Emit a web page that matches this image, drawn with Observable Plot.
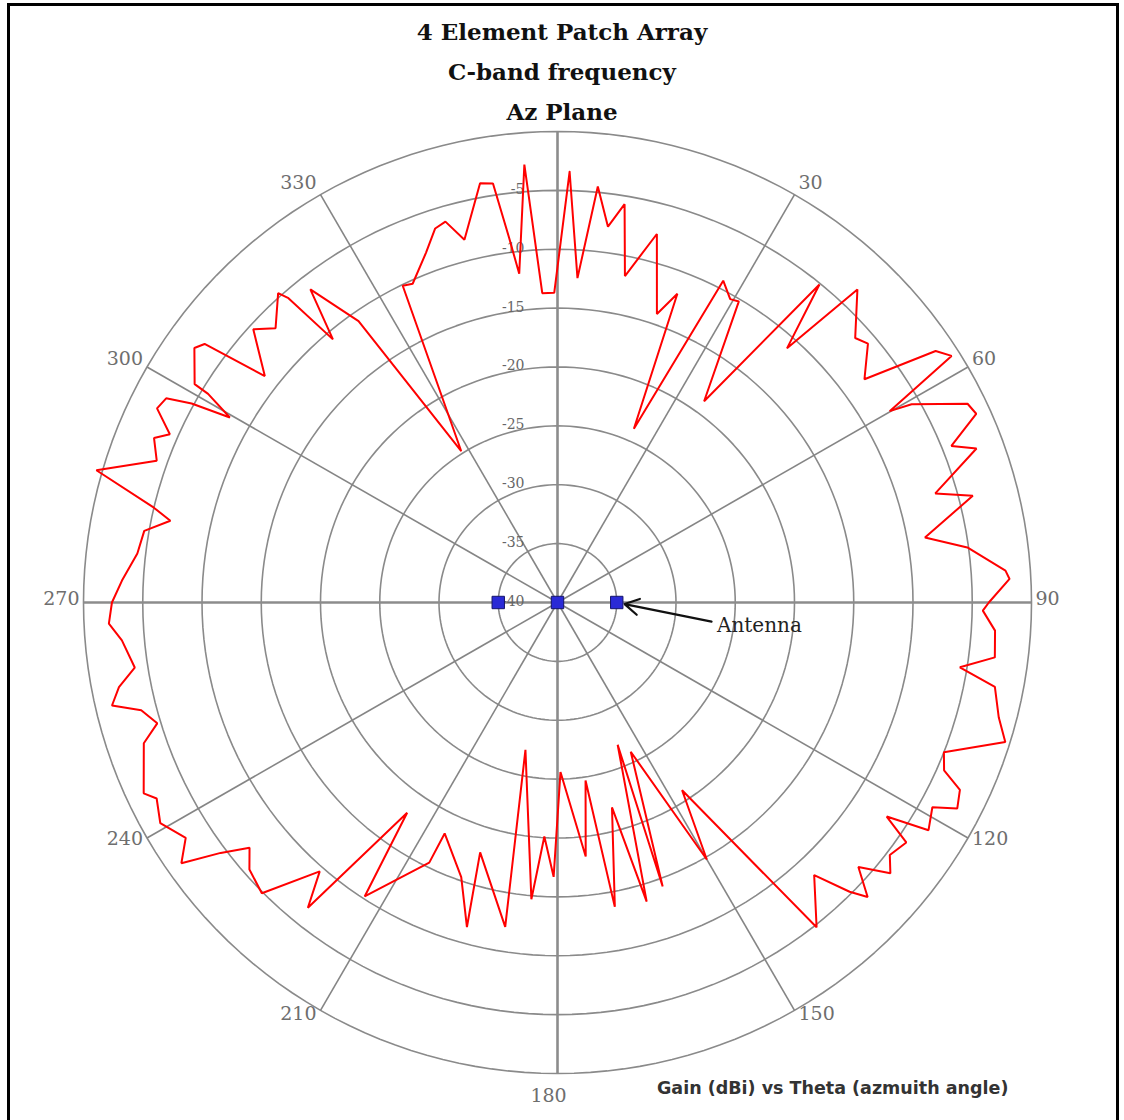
<!DOCTYPE html>
<html>
<head>
<meta charset="utf-8">
<script src="https://cdn.jsdelivr.net/npm/d3@7"></script>
<script src="https://cdn.jsdelivr.net/npm/@observablehq/plot@0.6"></script>
<style>
  body { margin: 0; background: #fff; }
  #wrap { position: relative; width: 1124px; height: 1120px; overflow: hidden; background: #fff; }
  #title { height: 124px; padding-top: 12px; box-sizing: border-box; text-align: center;
           font-family: "DejaVu Serif", serif; font-weight: bold; font-size: 23px; color: #111; position: relative; z-index: 2; }
  #title div { height: 40px; line-height: 40px; }
  #frame { position: absolute; left: 7px; top: 3px; width: 1112px; height: 1140px; border: 3px solid #000; box-sizing: border-box; z-index: 3; pointer-events: none; }
  #caption { position: absolute; left: 657px; top: 1077px; font-family: "DejaVu Sans", sans-serif; font-weight: bold;
             font-size: 17.5px; line-height: 22px; color: #333; z-index: 2; }
  #chart { display: block; }
</style>
</head>
<body>
<div id="wrap">
  <div id="frame"></div>
  <div id="title"><div>4 Element Patch Array</div><div>C-band frequency</div><div>Az Plane</div></div>
  <div id="chart"></div>
  <div id="caption">Gain (dBi) vs Theta (azmuith angle)</div>
</div>
<script>
// ---- data: azimuth angle (deg, clockwise from top) and gain (dBi), in trace order ----
const theta = [
  1.6, 3.5, 5.5, 7.6, 9.5, 11.6, 15.0, 18.9, 21.1, 23.6, 27.1, 29.5, 30.9, 35.9, 39.3, 41.9, 43.6,
  48.2, 50.0, 53.8, 56.2, 57.8, 59.9, 60.6, 64.0, 65.6, 68.2, 69.7, 73.8, 75.5, 79.9, 82.3, 85.9, 87.0,
  90.0, 91.1, 93.7, 97.2, 99.2, 101.0, 104.7, 107.4, 111.3, 113.6, 115.1, 117.4, 118.8, 121.7, 123.2,
  124.7, 127.4, 129.3, 131.5, 133.7, 134.9, 136.9, 141.6, 146.6, 150.0, 154.0, 159.8, 157.2, 163.5,
  165.2, 169.4, 171.1, 173.7, 179.0, 180.8, 183.2, 185.0, 192.2, 189.1, 197.1, 195.5, 199.2, 205.9,
  206.1, 213.1, 215.4, 219.1, 221.3, 225.3, 228.9, 231.3, 233.2, 235.1, 237.5, 240.8, 243.8, 245.1,
  251.1, 253.1, 255.4, 256.9, 259.0, 261.2, 265.0, 267.3, 270.0, 272.9, 276.7, 279.9, 282.0, 283.3,
  286.1, 289.6, 292.3, 293.6, 296.0, 297.7, 298.7, 299.6, 301.0, 301.2, 305.2, 306.4, 307.9, 312.1,
  314.4, 318.1, 318.7, 319.7, 321.9, 324.9, 327.7, 334.1, 335.7, 339.5, 342.0, 343.7, 345.7, 349.6,
  351.3, 352.5, 353.4, 355.7, 357.2, 359.4
];
const gain = [
  -3.4, -12.4, -4.5, -7.8, -5.7, -11.7, -7.6, -14.1, -11.9, -23.9, -9.3, -10.4, -10.2, -18.9, -5.1, -11.0, -3.3,
  -6.3, -5.8, -7.9, -1.6, -0.7, -7.6, -5.7, -1.5, -1.2, -4.2, -2.3, -6.8, -3.8, -8.5, -5.1, -2.1, -1.8,
  -3.6, -4.1, -3.0, -2.8, -5.6, -2.4, -1.5, -0.4, -5.0, -4.4, -2.5, -2.0, -3.9, -3.2, -6.8,
  -4.2, -4.7, -3.7, -6.1, -3.8, -5.2, -8.3, -4.8, -20.9, -14.8, -25.9, -14.3, -26.9, -13.5,
  -22.0, -13.7, -24.7, -18.3, -25.6, -16.7, -20.1, -14.7, -27.2, -12.1, -17.8, -11.4, -15.3, -18.2,
  -15.4, -10.2, -18.1, -6.6, -9.6, -4.9, -5.5, -6.7, -4.5, -1.3, -2.8, -1.6, -2.3, -1.5,
  -3.1, -4.7, -3.7, -1.4, -2.3, -3.9, -3.1, -2.1, -2.4, -3.2, -4.3, -4.6, -6.6, -5.0,
  0.5, -4.1, -3.2, -4.3, -2.4, -2.7, -4.8, -8.2, -5.6, -4.2, -2.5, -3.0, -8.7, -5.4,
  -6.7, -4.7, -5.6, -10.7, -6.2, -10.8, -24.8, -10.1, -10.3, -8.3, -6.6, -6.3, -8.2, -3.8,
  -4.0, -8.8, -11.9, -2.7, -13.7, -13.7
];

// grid
const ringGains = [-35, -30, -25, -20, -15, -10, -5, 0];
const radialLabels = ["-5", "-10", "-15", "-20", "-25", "-30", "-35", "-40"];
const radialLabelGains = [-5, -10, -15, -20, -25, -30, -35, -40];
const spokeAngles = [0, 30, 60, 90, 120, 150, 180, 210, 240, 270, 300, 330];
const angleLabels = [30, 60, 90, 120, 150, 180, 210, 240, 270, 300, 330];

// antenna elements and annotation
const antennaTheta = [0, 90, 270];
const antennaGain = [-40, -35, -35];
const noteText = ["Antenna"];
const noteTheta = [98.2];
const noteGain = [-26.4];
const arrowFromTheta = [97.1];
const arrowFromGain = [-26.9];
const arrowToElement = [1];

// ---- helpers: gain floor -40 dB at centre, 0 dB at outer ring ----
const FLOOR = -40;
const rad = d => d * Math.PI / 180;
const px = (t, g) => (g - FLOOR) * Math.sin(rad(t));
const py = (t, g) => (g - FLOOR) * Math.cos(rad(t));

const curve = theta.map((t, i) => ({t, g: gain[i]}));
curve.push({t: theta[0], g: gain[0]});

const rings = ringGains.flatMap(g => d3.range(0, 361, 2).map(a => ({g, t: a})));
const spokes = spokeAngles.map(a => ({a, main: a % 90 === 0}));
const angLab = angleLabels.map(a => ({a, label: String(a)}));
const radLab = radialLabelGains.map((g, i) => ({g, label: radialLabels[i]}));
const antennas = antennaTheta.map((t, i) => ({t, g: antennaGain[i]}));
const notes = noteText.map((s, i) => ({s, t: noteTheta[i], g: noteGain[i]}));
const arrows = arrowFromTheta.map((t, i) => ({t1: t, g1: arrowFromGain[i],
  t2: antennaTheta[arrowToElement[i]], g2: antennaGain[arrowToElement[i]]}));

const sideOf = a => (a > 0 && a < 180) ? 1 : (a > 180 ? -1 : 0);
const labRight = angLab.filter(d => sideOf(d.a) === 1);
const labLeft = angLab.filter(d => sideOf(d.a) === -1);
const labBottom = angLab.filter(d => sideOf(d.a) === 0);
const labDy = d => -4 - 9 * Math.cos(rad(d.a));
const labStyle = {fill: "#6e6e6e", fontSize: 19, fontFamily: "DejaVu Serif", text: "label"};

const W = 1124, H = 996;
const chart = Plot.plot({
  width: W, height: H,
  marginLeft: 83, marginRight: 93, marginTop: 7, marginBottom: 47,
  x: {domain: [-40, 40], axis: null},
  y: {domain: [-40, 40], axis: null},
  style: {background: "transparent", overflow: "visible"},
  marks: [
    Plot.line(rings, {x: d => px(d.t, d.g), y: d => py(d.t, d.g), z: "g", stroke: "#8a8a8a", strokeWidth: 1.6}),
    Plot.link(spokes.filter(d => !d.main), {x1: 0, y1: 0, x2: d => px(d.a, 0), y2: d => py(d.a, 0), stroke: "#858585", strokeWidth: 1.6}),
    Plot.link(spokes.filter(d => d.main), {x1: 0, y1: 0, x2: d => px(d.a, 0), y2: d => py(d.a, 0), stroke: "#8c8c8c", strokeWidth: 2.6}),
    Plot.text(radLab, {x: 0, y: d => py(0, d.g), text: "label", textAnchor: "end", dx: -33, dy: -1,
      fill: "#666", fontSize: 14, fontFamily: "DejaVu Serif"}),
    ...labRight.map(d => Plot.text([d], {...labStyle, x: px(d.a, 0), y: py(d.a, 0), textAnchor: "start", dx: 4, dy: labDy(d)})),
    ...labLeft.map(d => Plot.text([d], {...labStyle, x: px(d.a, 0), y: py(d.a, 0), textAnchor: "end", dx: -4, dy: labDy(d)})),
    Plot.text(labBottom, {...labStyle, x: d => px(d.a, 0), y: d => py(d.a, 0), textAnchor: "middle", dx: -9, dy: 22}),
    Plot.line(curve, {x: d => px(d.t, d.g), y: d => py(d.t, d.g), stroke: "#ff0000", strokeWidth: 2, strokeLinejoin: "miter"}),
    Plot.arrow(arrows, {x1: d => px(d.t1, d.g1), y1: d => py(d.t1, d.g1), x2: d => px(d.t2, d.g2), y2: d => py(d.t2, d.g2),
      stroke: "#111", strokeWidth: 2.2, headLength: 11, insetEnd: 8}),
    Plot.dot(antennas, {x: d => px(d.t, d.g), y: d => py(d.t, d.g), symbol: "square", r: 7,
      fill: "#2a2ad6", stroke: "#14146a", strokeWidth: 1}),
    Plot.text(notes, {x: d => px(d.t, d.g), y: d => py(d.t, d.g), text: "s", textAnchor: "start",
      fill: "#222", fontSize: 20, fontFamily: "DejaVu Serif"})
  ]
});
document.getElementById("chart").appendChild(chart);
</script>
</body>
</html>
